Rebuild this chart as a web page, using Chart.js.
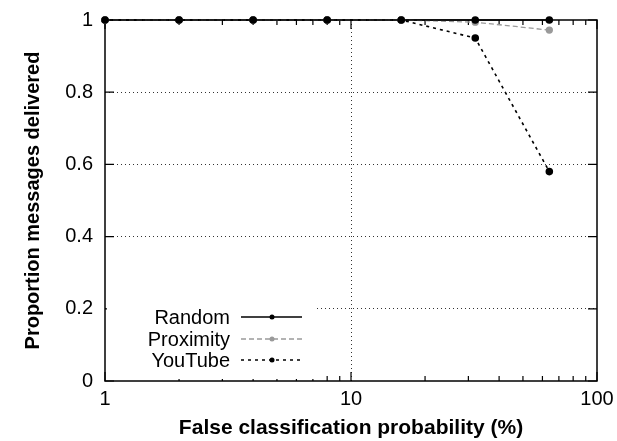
<!DOCTYPE html>
<html>
<head>
<meta charset="utf-8">
<script src="https://cdn.jsdelivr.net/npm/chart.js@4"></script>
<style>
  html, body { margin: 0; padding: 0; background: #fff; }
  #wrap { width: 617px; height: 441px; }
</style>
</head>
<body>
<div id="wrap"><canvas id="chart" width="617" height="441"></canvas></div>
<script>
// valeurs
const xValues = [1, 2, 4, 8, 16, 32, 64];
const randomValues = [1, 1, 1, 1, 1, 1, 1];
const proximityValues = [1, 1, 1, 1, 1, 0.994, 0.972];
const youtubeValues = [1, 1, 1, 1, 1, 0.95, 0.58];
const xTickLabels = [1, 10, 100];
const yTickLabels = [0, 0.2, 0.4, 0.6, 0.8, 1];
const seriesNames = ['Random', 'Proximity', 'YouTube'];

const toPoints = vals => xValues.map((x, i) => ({ x: x, y: vals[i] }));
const FONT = '"Liberation Sans", Arial, sans-serif';

// cadre + petits traits de graduation vers l'intérieur (style gnuplot)
const frameTicks = {
  id: 'frameTicks',
  beforeDatasetsDraw(chart) {
    const ctx = chart.ctx;
    const a = chart.chartArea;
    const xs = chart.scales.x, ys = chart.scales.y;
    ctx.save();
    ctx.strokeStyle = '#000';
    ctx.lineWidth = 1.5;
    ctx.strokeRect(a.left, a.top, a.right - a.left, a.bottom - a.top);
    ctx.lineWidth = 1.2;
    ctx.beginPath();
    for (let d = 1; d < 100; d *= 10) {
      for (let m = 1; m <= 10; m++) {
        const px = xs.getPixelForValue(d * m);
        const len = (m === 1 || m === 10) ? 9 : 5;
        ctx.moveTo(px, a.bottom); ctx.lineTo(px, a.bottom - len);
        ctx.moveTo(px, a.top); ctx.lineTo(px, a.top + len);
      }
    }
    yTickLabels.forEach(v => {
      const py = ys.getPixelForValue(v);
      ctx.moveTo(a.left, py); ctx.lineTo(a.left + 9, py);
      ctx.moveTo(a.right, py); ctx.lineTo(a.right - 9, py);
    });
    ctx.stroke();
    ctx.restore();
  }
};

// légende à la gnuplot : texte à droite, échantillon de ligne après
const keyBox = {
  id: 'keyBox',
  afterDraw(chart) {
    const ctx = chart.ctx;
    const a = chart.chartArea;
    ctx.save();
    ctx.fillStyle = '#fff';
    ctx.fillRect(a.left + 2, 300, 208, a.bottom - 302);
    ctx.font = '20px ' + FONT;
    ctx.textAlign = 'right';
    ctx.textBaseline = 'middle';
    const rows = [317, 339, 360];
    chart.data.datasets.forEach((ds, i) => {
      const y = rows[i];
      ctx.fillStyle = '#000';
      ctx.fillText(ds.label, 230, y + 1);
      ctx.strokeStyle = ds.borderColor;
      ctx.lineWidth = ds.borderWidth;
      ctx.setLineDash(ds.borderDash || []);
      ctx.beginPath();
      ctx.moveTo(241, y); ctx.lineTo(302, y);
      ctx.stroke();
      ctx.setLineDash([]);
      ctx.fillStyle = ds.pointBackgroundColor;
      ctx.beginPath();
      ctx.arc(272, y, 2.5, 0, Math.PI * 2);
      ctx.fill();
    });
    ctx.restore();
  }
};

const ctx = document.getElementById('chart').getContext('2d');
const chart = new Chart(ctx, {
  type: 'line',
  data: {
    datasets: [
      {
        label: seriesNames[0],
        data: toPoints(randomValues),
        borderColor: '#000',
        backgroundColor: '#000',
        pointBackgroundColor: '#000',
        pointBorderColor: '#000',
        borderWidth: 1.6,
        pointRadius: 3,
      },
      {
        label: seriesNames[1],
        data: toPoints(proximityValues),
        borderColor: '#9a9a9a',
        backgroundColor: '#9a9a9a',
        pointBackgroundColor: '#9a9a9a',
        pointBorderColor: '#9a9a9a',
        borderWidth: 1.3,
        borderDash: [5, 3],
        pointRadius: 3,
      },
      {
        label: seriesNames[2],
        data: toPoints(youtubeValues),
        borderColor: '#000',
        backgroundColor: '#000',
        pointBackgroundColor: '#000',
        pointBorderColor: '#000',
        borderWidth: 1.6,
        borderDash: [3, 4],
        pointRadius: 3,
      },
    ],
  },
  options: {
    responsive: false,
    animation: false,
    clip: false,
    layout: { padding: { top: 20, right: 20, left: 0, bottom: 0 } },
    plugins: {
      legend: { display: false },
      tooltip: { enabled: false },
    },
    scales: {
      x: {
        type: 'logarithmic',
        min: 1,
        max: 100,
        afterBuildTicks: s => { s.ticks = xTickLabels.map(v => ({ value: v })); },
        afterFit: s => { s.height = 60; s.paddingLeft = 0; s.paddingRight = 0; },
        ticks: {
          color: '#000',
          font: { family: FONT, size: 20 },
          padding: 6,
          maxRotation: 0,
          callback: v => String(v),
        },
        grid: {
          drawTicks: false,
          color: c => (c.tick && c.tick.value === 10) ? '#333' : 'rgba(0,0,0,0)',
          lineWidth: 1,
        },
        border: { display: false, dash: [1, 3] },
        title: {
          display: true,
          text: 'False classification probability (%)',
          color: '#000',
          font: { family: FONT, size: 21, weight: 'bold' },
          padding: { top: 0, bottom: 0 },
        },
      },
      y: {
        min: 0,
        max: 1,
        afterBuildTicks: s => { s.ticks = yTickLabels.map(v => ({ value: v })); },
        afterFit: s => { s.width = 105; s.paddingTop = 0; s.paddingBottom = 0; },
        ticks: {
          color: '#000',
          font: { family: FONT, size: 20 },
          padding: 12,
          callback: v => String(v),
        },
        grid: {
          drawTicks: false,
          color: c => (c.tick && c.tick.value > 0 && c.tick.value < 1) ? '#333' : 'rgba(0,0,0,0)',
          lineWidth: 1,
        },
        border: { display: false, dash: [1, 3] },
        title: {
          display: true,
          text: 'Proportion messages delivered',
          color: '#000',
          font: { family: FONT, size: 20, weight: 'bold' },
          padding: { top: 21, bottom: 0 },
        },
      },
    },
  },
  plugins: [frameTicks, keyBox],
});
</script>
</body>
</html>
